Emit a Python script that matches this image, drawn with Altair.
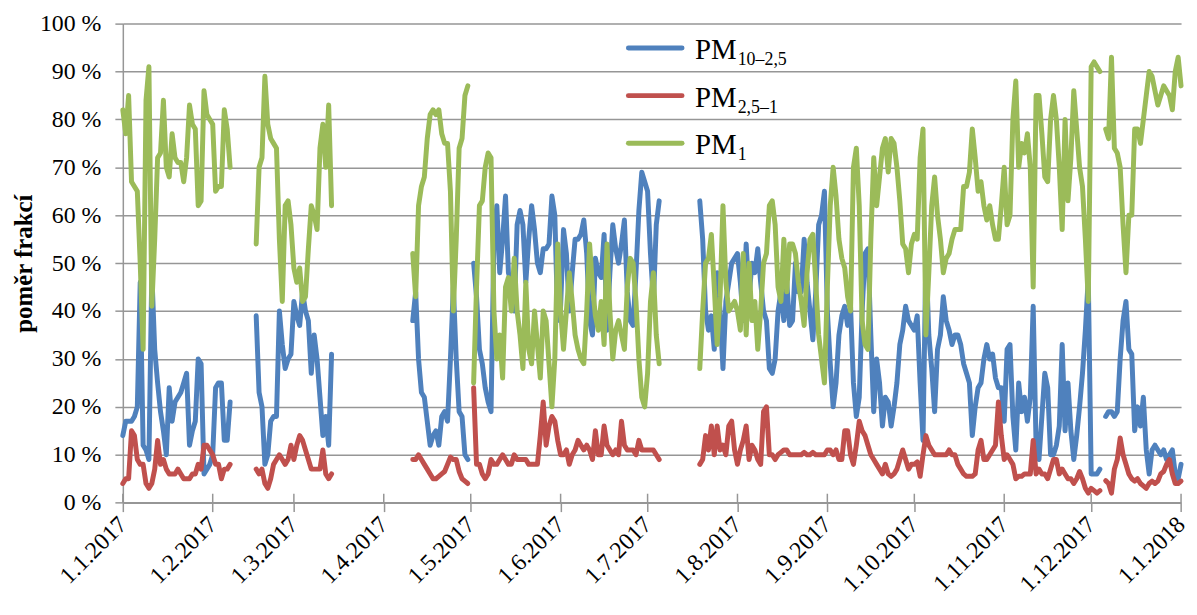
import altair as alt
import pandas as pd

# ---- data ----
SEG_START = ["2017-01-01", "2017-02-16", "2017-04-11", "2017-05-02", "2017-07-19", "2017-12-06"]

PM10_25 = [
    [14,17,17,17,18,20,46,12,11,9,48,32,25,19,15,10,24,17,21,22,23,25,27,12,15,17,30,29,6,7,8,10,24,25,25,13,13,21],
    [39,23,20,8,10,17,18,18,40,33,28,30,31,42,39,37,44,40,38,27,35,30,22,14,18,12,31],
    [38,44,30,23,22,17,12,14,15,12,18,19,17,30,45,30,19,18,10,9],
    [50,43,32,29,24,21,19,55,62,48, 55,64,48,46,40,58,61,58,46,55, 62,57,50,48,53,53,54,64,60,38,
     41,57,52,40,48,55,55,56,59,52, 38,35,51,48,47,56,36,48,58,53, 50,54,59,44,38,37,48,61,69,67,
     65,52,42,58,63],
    [63,55,40,36,39,32,48,40,28,42, 46,50,51,52,46,38,54,43,50,48, 53,46,40,38,28,27,30,40,44,38,
     46,37,38,50,44,44,55,46,40,34, 44,58,60,
     65,40,29,20,25,35,39,41,37,41, 25,18,22,40,52,53,35,19,30,25, 16,22,21,16,20,25,33,36,41,38,
     37,36,39,25,13,52,35,28,19,32, 35,43,38,36,33,35,35,33,29,27, 25,14,20,24,25,30,33,30,31,26,
     24,24,17,
     32,33,18,11,25,19,22,17,22,41, 12,9,18,27,24,10,10,12,16,33, 15,25,15,9,14,20,27,36,47,6,
     6,6,7],
    [18,19,19,18,19,30,38,42,32,31,15,20,16,22,11,6,11,12,11,10,11,9,10,11,6,5,8],
]
PM25_1 = [
    [4,5,5,15,14,9,8,8,4,3,4,7,13,8,9,7,6,6,6,7,6,5,5,5,6,6,8,7,12,12,11,10,8,8,5,7,7,8],
    [7,6,7,4,3,5,8,9,10,9,8,9,12,9,12,14,13,11,9,7,7,7,7,11,6,5,6],
    [9,9,10,9,8,7,6,5,5,5.5,6,6.5,8,9.5,9,9,6.5,5,4.5,4],
    [24,8,8,6,5,6,9,8,8,9, 10,9,8,8,10,9,9,9,9,8, 8,8,8,14,21,12,16,18,17,13,
     10,10,11,8,10,11,13,12,11,12, 11,9,15,10,10,16,12,11,10,11, 10,17,12,11,11,11,10,13,11,11,
     11,11,11,10,9],
    [8,9,14,11,16,10,16,11,12,10, 16,17,11,8,11,13,16,9,12,11, 9,8,19,20,10,10,9,10,10.5,11,
     11,10,10,10,10,10,10.5,10,10,10.5, 10,10,10,
     10,11,11,10,11,9,9,15,15,10, 8,12,17,15,14,12,10,9,8,7, 6,8,6,5.5,6,7,9,11,9,7,
     8,8,8.5,5.5,10,14,12,11,10,10, 10,10,10,11,10,10,8,7,6,5.5, 5.5,5.5,6,11,13,9,9,10,11,12,
     21,14,9,
     10,9,8,5,5.5,5.5,6,6,6,13, 6,7,6,6,5,7,9,9,6,7, 6,5,5,4,5,6.5,5,3,2,3,
     2.5,2,2.5],
    [4.6,4,2,7,9,13.5,10,8,6,5,4.5,5,4,3.5,3,4,4.5,4,4.5,6,6.5,8,9,6,4,4,4.5],
]
PM1 = [
    [82,77,85,67,66,65,50,32,84,91,41,55,72,73,84,70,68,77,72,71,71,67,72,83,79,78,62,63,86,81,80,79,65,66,66,82,78,70],
    [54,70,72,89,79,76,75,74,55,42,62,63,58,49,46,49,42,43,53,62,60,57,74,79,70,83,62],
    [52,43,62,66,68,76,81,82,81,82,77,75,75,65,40,55,74,76,85,87],
    [25,45,62,63,70,73,72,40,30,35, 26,45,47,40,51,40,35,28,46,32, 29,40,33,26,40,38,29,20,30,54,
     40,32,40,48,42,35,32,30,29,40, 54,45,39,36,42,33,54,40,30,36, 38,35,32,45,51,50,42,30,22,20,
     27,42,48,35,29],
    [28,40,50,51,56,45,33,43,62,46, 40,41,42,40,36,52,35,50,38,42, 32,40,50,52,62,63,58,45,42,55,
     44,54,54,52,46,42,37,48,55,56, 46,35,30,
     25,45,62,70,64,55,51,49,43,40, 70,74,62,38,33,32,55,72,62,68, 74,76,69,76,75,70,63,54,53,48,
     54,56,55,72,78,35,48,62,68,60, 55,48,51,52,55,57,57,57,66,66, 69,78,72,65,67,62,59,62,58,55,
     55,62,70,
     58,60,80,88,70,75,73,77,70,45, 85,85,77,68,67,80,85,80,70,57, 80,63,72,86,78,70,66,55,42,91,
     92,91,90],
    [78,76,93,74,73,70,58,48,60,60,78,78,75,80,85,90,89,86,83,85,87,86,85,82,90,93,87],
]

SERIES = ["PM10-2,5", "PM2,5-1", "PM1"]
LEGEND_SUB = ["10–2,5", "2,5–1", "1"]
COLORS = ["#4F81BD", "#C0504D", "#9BBB59"]
MONTHS = [f"2017-{m:02d}-01" for m in range(1, 13)] + ["2018-01-01"]
Y_TICKS = list(range(0, 101, 10))

rows = []
for k, start in enumerate(SEG_START):
    n = len(PM1[k])
    assert len(PM10_25[k]) == n and len(PM25_1[k]) == n
    dates = pd.date_range(start, periods=n, freq="D")
    for name, arr in zip(SERIES, [PM10_25[k], PM25_1[k], PM1[k]]):
        for d, v in zip(dates, arr):
            rows.append({"date": d.strftime("%Y-%m-%d"), "value": v, "series": name, "seg": k})
df = pd.DataFrame(rows)

FONT = "Liberation Serif"
GRID = "#969696"
W, H = 1065.4, 482.3

x_dates = [alt.DateTime(year=int(s[:4]), month=int(s[5:7]), date=1, utc=True) for s in MONTHS]
xscale = alt.Scale(type="utc", domain=[x_dates[0], x_dates[-1]])
yscale = alt.Scale(domain=[0, 100])

xaxis = alt.Axis(values=x_dates, labelExpr="utcFormat(datum.value, '%-d.%-m.%Y')", labelAngle=-45,
                 labelAlign="right", labelBaseline="middle", labelPadding=9, labelOffset=0,
                 labelFont=FONT, labelFontSize=24, labelColor="black",
                 labelFlush=False, labelOverlap=False, labelBound=False, tickSize=9, grid=False,
                 title=None)
yaxis = alt.Axis(values=Y_TICKS, labelExpr="datum.value + ' %'", labelPadding=14, labelFlush=False,
                 labelFont=FONT, labelFontSize=24, labelColor="black",
                 tickSize=8, grid=True, title="poměr frakcí", titlePadding=3,
                 titleFont=FONT, titleFontSize=25, titleFontWeight="bold", titleColor="black")

layers = []
# inner half of the crossing month ticks
ticks_in = alt.Chart(pd.DataFrame({"date": MONTHS})).mark_rule(color=GRID, strokeWidth=1.5).encode(
    x=alt.X("date:T", scale=xscale, axis=xaxis), y=alt.value(H), y2=alt.value(H - 9)
)
layers.append(ticks_in)

for i, name in enumerate(SERIES):
    c = alt.Chart(df).transform_filter(alt.datum.series == name).mark_line(
        color=COLORS[i], strokeWidth=5, strokeCap="round", strokeJoin="round"
    ).encode(
        x=alt.X("date:T", scale=xscale, axis=xaxis),
        y=alt.Y("value:Q", scale=yscale, axis=yaxis),
        detail="seg:N",
    )
    layers.append(c)

# legend
leg_df = pd.DataFrame({"sub": LEGEND_SUB, "series": SERIES})
for i, name in enumerate(SERIES):
    base = alt.Chart(leg_df).transform_filter(alt.datum.series == name)
    layers.append(base.mark_rule(color=COLORS[i], strokeWidth=5, strokeCap="round").encode(
        x=alt.value(509), x2=alt.value(563), y=alt.value(24.5 + 48 * i)))
    layers.append(base.mark_text(text="PM", font=FONT, fontSize=29, align="left",
                                 baseline="alphabetic", color="black").encode(
        x=alt.value(576), y=alt.value(35.5 + 48 * i)))
    layers.append(base.mark_text(font=FONT, fontSize=18, align="left", baseline="alphabetic",
                                 color="black").encode(
        text="sub:N", x=alt.value(619), y=alt.value(41.5 + 48 * i)))

chart = alt.layer(*layers).properties(
    width=W, height=H,
    autosize=alt.AutoSizeParams(type="none"),
    padding={"left": 115.6, "top": 13.7, "right": 8, "bottom": 100},
).configure_view(stroke=None).configure_axis(
    tickColor=GRID, tickWidth=1.5, domainColor=GRID, domainWidth=1.5,
    gridColor=GRID, gridWidth=1.5,
)

chart.save("out.html", embed_options={"renderer": "svg", "actions": False})
